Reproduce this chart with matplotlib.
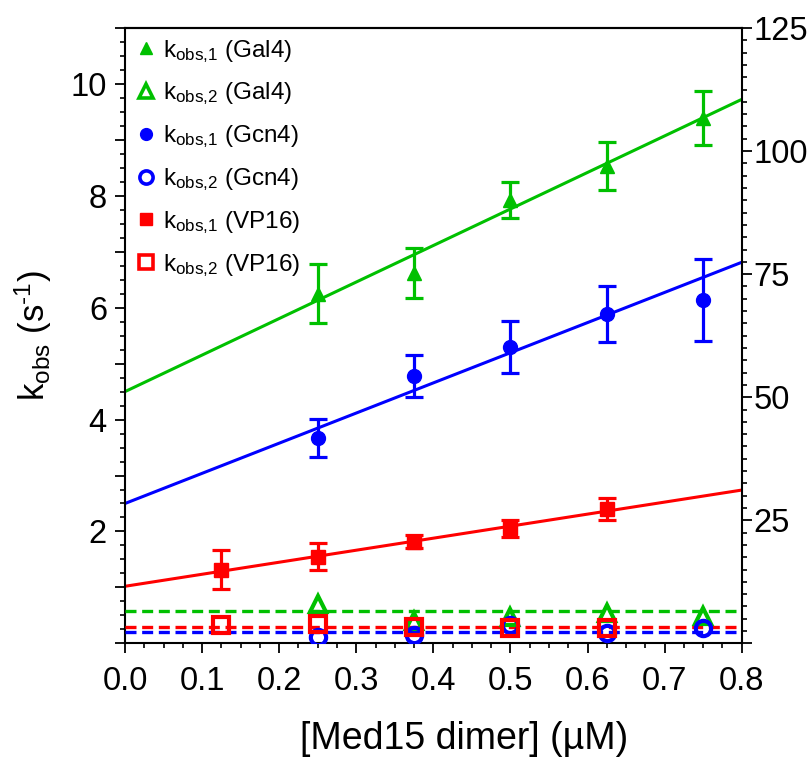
import matplotlib
matplotlib.use("Agg")
import matplotlib.pyplot as plt
from matplotlib.lines import Line2D
from matplotlib.ticker import MultipleLocator, FuncFormatter
import numpy as np

plt.rcParams['font.family'] = ['Liberation Sans', 'DejaVu Sans']
plt.rcParams['mathtext.fontset'] = 'custom'
plt.rcParams['mathtext.rm'] = 'Liberation Sans'
plt.rcParams['mathtext.it'] = 'Liberation Sans'
plt.rcParams['mathtext.bf'] = 'Liberation Sans:bold'

# ---- data ----
conc_gal4 = [0.25, 0.375, 0.5, 0.625, 0.75]
k1_gal4 = [6.25, 6.62, 7.93, 8.54, 9.39]
k1_gal4_err = [0.53, 0.45, 0.32, 0.43, 0.48]
k2_gal4 = [0.71, 0.40, 0.47, 0.54, 0.49]

conc_gcn4 = [0.25, 0.375, 0.5, 0.625, 0.75]
k1_gcn4 = [3.67, 4.78, 5.30, 5.89, 6.14]
k1_gcn4_err = [0.34, 0.37, 0.46, 0.50, 0.73]
k2_gcn4 = [0.12, 0.15, 0.33, 0.18, 0.27]

conc_vp16 = [0.125, 0.25, 0.375, 0.5, 0.625]
k1_vp16 = [1.32, 1.55, 1.82, 2.06, 2.40]
k1_vp16_err = [0.35, 0.24, 0.12, 0.15, 0.20]
k2_vp16 = [0.33, 0.34, 0.29, 0.28, 0.28]

# linear fits of k_obs,1 (intercept, slope) and mean levels of k_obs,2
fit_intercept = {'Gal4': 4.50, 'Gcn4': 2.50, 'VP16': 1.02}
fit_slope = {'Gal4': 6.53, 'Gcn4': 5.39, 'VP16': 2.15}
k2_mean = {'Gal4': 0.57, 'Gcn4': 0.21, 'VP16': 0.30}

colors = {'Gal4': '#00c000', 'Gcn4': '#0000ff', 'VP16': '#ff0000'}
markers = {'Gal4': '^', 'Gcn4': 'o', 'VP16': 's'}

series = [
    ('Gal4', conc_gal4, k1_gal4, k1_gal4_err, k2_gal4),
    ('Gcn4', conc_gcn4, k1_gcn4, k1_gcn4_err, k2_gcn4),
    ('VP16', conc_vp16, k1_vp16, k1_vp16_err, k2_vp16),
]

fig = plt.figure(figsize=(8.1, 7.61), dpi=100)
ax = fig.add_axes([0.1543, 0.1546, 0.7614, 0.8086])

x_fit = np.array([0.0, 0.8])
lw = 2.2
for name, conc, k1, k1err, k2 in series:
    c = colors[name]
    m = markers[name]
    ax.plot(x_fit, fit_intercept[name] + fit_slope[name] * x_fit,
            color=c, lw=lw, zorder=2)
    ms1 = 10.5 if m == 's' else 10
    ax.errorbar(conc, k1, yerr=k1err, fmt=m, color=c, ms=ms1,
                elinewidth=2.3, capsize=6.5, capthick=2.3, zorder=3)

# slow phase: dashed mean levels and open markers
for name, conc, k1, k1err, k2 in [series[0], series[2], series[1]]:
    c = colors[name]
    ax.plot(x_fit, [k2_mean[name]] * 2, color=c, lw=lw + 0.2,
            dashes=(3.3, 1.7), zorder=4)
for name, conc, k1, k1err, k2 in [series[0], series[1], series[2]]:
    c = colors[name]
    ax.plot(conc, k2, linestyle='none', marker=markers[name], ms=11,
            mfc='none', mec=c, mew=3, zorder=5)

ax.set_xlim(0, 0.8)
ax.set_ylim(0, 11)

ax.xaxis.set_major_locator(MultipleLocator(0.1))
ax.xaxis.set_minor_locator(MultipleLocator(0.025))
ax.xaxis.set_major_formatter(FuncFormatter(lambda v, p: f"{v:.1f}"))
ax.yaxis.set_major_locator(MultipleLocator(1))
ax.yaxis.set_minor_locator(MultipleLocator(0.25))
ax.yaxis.set_major_formatter(FuncFormatter(
    lambda v, p: f"{int(round(v))}" if (round(v) % 2 == 0 and round(v) > 0) else ""))

for s in ax.spines.values():
    s.set_linewidth(1.5)
ax.spines['right'].set_visible(False)

ax.tick_params(axis='both', which='major', direction='out', length=7,
               width=1.3, labelsize=23.5, right=False, top=False)
ax.tick_params(axis='both', which='minor', direction='out', length=3.5,
               width=1.2, right=False, top=False)
ax.tick_params(axis='y', which='major', pad=6)
ax.tick_params(axis='x', which='major', pad=9.5)

ax2 = ax.twinx()
ax2.set_ylim(0, 125)
ax2.yaxis.set_major_locator(MultipleLocator(25))
ax2.yaxis.set_minor_locator(MultipleLocator(2.5))
ax2.yaxis.set_major_formatter(FuncFormatter(
    lambda v, p: f"{int(round(v))}" if v > 0 else ""))
for s in ax2.spines.values():
    s.set_linewidth(1.5)
ax2.spines['left'].set_visible(False)
ax2.spines['bottom'].set_visible(False)
ax2.tick_params(axis='y', which='major', direction='out', length=7,
                width=1.3, labelsize=23.5, pad=1.5)
ax2.tick_params(axis='y', which='minor', direction='out', length=3.5,
                width=1.2)

ax.set_xlabel('[Med15 dimer] (µM)', fontsize=27)
ax.xaxis.set_label_coords(0.55, -0.127)
ax.set_ylabel(r'k$_{\mathrm{obs}}$ (s$^{\mathrm{\text{-}1}}$)', fontsize=25, labelpad=12)

handles = []
labels = []
for name in ['Gal4', 'Gcn4', 'VP16']:
    c = colors[name]
    m = markers[name]
    handles.append(Line2D([], [], linestyle='none', marker=m, color=c,
                          ms=8.5 if m != 's' else 9))
    labels.append(r'k$_{\mathrm{obs{,}1}}$ (' + name + ')')
    handles.append(Line2D([], [], linestyle='none', marker=m, mfc='none',
                          mec=c, mew=2.6, ms=9.5))
    labels.append(r'k$_{\mathrm{obs{,}2}}$ (' + name + ')')

leg = ax.legend(handles, labels, loc='upper left', bbox_to_anchor=(0.0, 1.0),
                frameon=False, fontsize=17.5, handlelength=0.9,
                handletextpad=0.25, labelspacing=0.66, borderaxespad=0.25,
                borderpad=0.15)

fig.savefig('out.png', dpi=100)
